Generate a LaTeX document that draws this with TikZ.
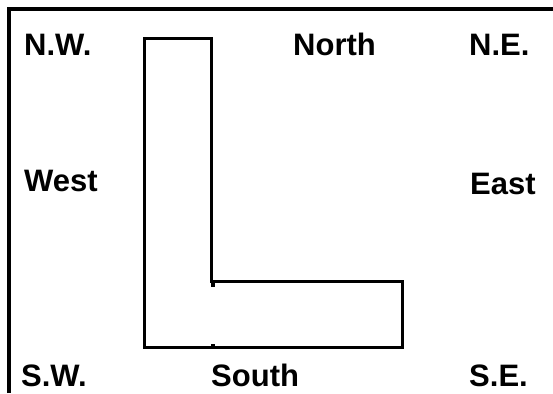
\documentclass[tikz,border=0pt]{standalone}
\usepackage{fontspec}
\setmainfont{Liberation Sans}
\usetikzlibrary{positioning}

\tikzset{
    compass/.style={anchor=base west, inner sep=0pt, font=\fontsize{31}{37}\selectfont\bfseries},
    outline/.style={line width=3pt, line join=miter},
}

\begin{document}
\begin{tikzpicture}[x=1pt, y=-1pt]
    \useasboundingbox (0,0) rectangle (553,393);

    % --- Frame (top and left side only) ---
    \draw[line width=3.2pt] (9,393) -- (9,9) -- (553,9);

    % --- The L-shaped block ---
    \draw[outline] (144,39) -- (211.5,39) -- (211.5,281.5) -- (402,281.5)
        -- (402,347.5) -- (144,347.5) -- cycle;
    \draw[line width=3.5pt] (213,280.5) -- (213,287);
    \draw[line width=3.5pt] (213,344) -- (213,349);

    % --- Compass labels ---
    \node[compass] (nw)    at (24,56)   {N.W.};
    \node[compass] (north) at (293,56)  {North};
    \node[compass] (ne)    at (469,56)  {N.E.};
    \node[compass] (west)  at (24,191)  {West};
    \node[compass] (east)  at (470,194) {East};
    \node[compass] (sw)    at (21,386)  {S.W.};
    \node[compass] (south) at (211,386) {South};
    \node[compass] (se)    at (469,386) {S.E.};
\end{tikzpicture}
\end{document}
